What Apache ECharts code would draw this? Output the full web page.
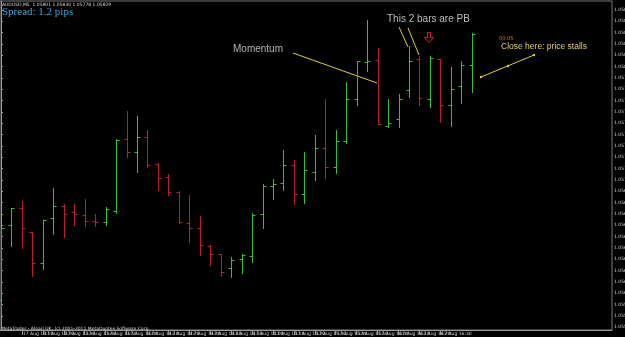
<!DOCTYPE html>
<html>
<head>
<meta charset="utf-8">
<script src="https://cdn.jsdelivr.net/npm/echarts@6.0.0/dist/echarts.min.js"></script>
<style>
html, body { margin: 0; padding: 0; background: #000; }
#chart { width: 625px; height: 337px; }
</style>
</head>
<body>
<div id="chart"></div>
<script>
// AUDUSD M5, 17 Aug 2011
var dateLabel = '17 Aug';
var times = ['13:00','13:05','13:10','13:15','13:20','13:25','13:30','13:35','13:40','13:45',
  '13:50','13:55','14:00','14:05','14:10','14:15','14:20','14:25','14:30','14:35',
  '14:40','14:45','14:50','14:55','15:00','15:05','15:10','15:15','15:20','15:25',
  '15:30','15:35','15:40','15:45','15:50','15:55','16:00','16:05','16:10','16:15',
  '16:20','16:25','16:30','16:35','16:40','16:45'];
var openData = [1.05594,1.05660,1.05675,1.05654,1.05627,1.05666,1.05677,1.05672,1.05669,1.05664,
  1.05663,1.05673,1.05736,1.05725,1.05738,1.05714,1.05703,1.05689,1.05662,1.05658,
  1.05642,1.05635,1.05622,1.05630,1.05633,1.05670,1.05695,1.05697,1.05713,1.05688,
  1.05707,1.05728,1.05711,1.05734,1.05771,1.05804,1.05806,1.05748,1.05754,1.05779,
  1.05807,1.05771,1.05807,1.05766,1.05783,1.05801];
var highData = [1.05658,1.05675,1.05681,1.05654,1.05665,1.05693,1.05679,1.05679,1.05683,1.05670,
  1.05676,1.05736,1.05761,1.05756,1.05744,1.05715,1.05705,1.05690,1.05687,1.05668,
  1.05643,1.05635,1.05632,1.05635,1.05671,1.05696,1.05701,1.05726,1.05718,1.05725,
  1.05740,1.05771,1.05744,1.05786,1.05805,1.05841,1.05816,1.05771,1.05776,1.05818,
  1.05809,1.05809,1.05807,1.05800,1.05805,1.05830];
var lowData = [1.05583,1.05642,1.05640,1.05615,1.05621,1.05652,1.05650,1.05660,1.05659,1.05659,
  1.05660,1.05671,1.05720,1.05707,1.05711,1.05691,1.05687,1.05662,1.05645,1.05634,
  1.05625,1.05615,1.05614,1.05618,1.05628,1.05658,1.05683,1.05691,1.05679,1.05680,
  1.05700,1.05702,1.05706,1.05733,1.05766,1.05796,1.05749,1.05747,1.05747,1.05773,
  1.05766,1.05764,1.05751,1.05748,1.05768,1.05778];
var closeData = [1.05658,1.05675,1.05658,1.05627,1.05665,1.05677,1.05670,1.05670,1.05664,1.05663,
  1.05674,1.05735,1.05725,1.05738,1.05713,1.05702,1.05689,1.05663,1.05658,1.05643,
  1.05635,1.05619,1.05629,1.05634,1.05669,1.05695,1.05696,1.05713,1.05688,1.05709,
  1.05728,1.05711,1.05734,1.05771,1.05805,1.05805,1.05749,1.05750,1.05771,1.05805,
  1.05772,1.05808,1.05766,1.05780,1.05801,1.05829];
var priceTicks = [1.05850,1.05840,1.05830,1.05820,1.05810,1.05800,1.05790,1.05780,1.05770,1.05760,
  1.05750,1.05740,1.05730,1.05720,1.05710,1.05700,1.05690,1.05680,1.05670,1.05660,
  1.05650,1.05640,1.05630,1.05620,1.05610,1.05600,1.05590,1.05580,1.05570];
var timeTicks = [0,2,4,6,8,10,12,14,16,18,20,22,24,26,28,30,32,34,36,38,40,42,44];

var upColor = '#3cbc3c';
var downColor = '#b82226';
var lineYellow = '#dccc48';
var n = times.length;
var last = n - 1;

var bars = times.map(function (t, i) {
  return [i, openData[i], highData[i], lowData[i], closeData[i]];
});

function renderBar(params, api) {
  var i = api.value(0);
  var o = api.coord([i, api.value(1)]);
  var h = api.coord([i, api.value(2)]);
  var l = api.coord([i, api.value(3)]);
  var c = api.coord([i, api.value(4)]);
  var x = Math.round(o[0]) + 0.5;
  var col = api.value(4) >= api.value(1) ? upColor : downColor;
  var st = { stroke: col, lineWidth: 1 };
  return {
    type: 'group',
    children: [
      { type: 'line', shape: { x1: x, y1: Math.round(h[1]), x2: x, y2: Math.round(l[1]) + 1 }, style: st },
      { type: 'line', shape: { x1: x - 3, y1: Math.round(o[1]) + 0.5, x2: x, y2: Math.round(o[1]) + 0.5 }, style: st },
      { type: 'line', shape: { x1: x, y1: Math.round(c[1]) + 0.5, x2: x + 3, y2: Math.round(c[1]) + 0.5 }, style: st }
    ]
  };
}

var chart = echarts.init(document.getElementById('chart'));
var tiny = { color: '#d0d0d0', fontSize: 4.5, fontFamily: 'DejaVu Sans' };

chart.setOption({
  backgroundColor: '#000',
  animation: false,
  grid: {
    left: 0, right: 13, top: 1, bottom: 7,
    containLabel: false, outerBoundsMode: 'none',
    show: true, borderColor: '#7a7a7a', borderWidth: 1
  },
  xAxis: {
    type: 'value',
    min: -0.0956,
    max: 58.41,
    splitLine: { show: false },
    axisLine: { show: true, lineStyle: { color: '#9a9a9a' } },
    axisTick: { show: true, customValues: timeTicks, length: 5, lineStyle: { color: '#9a9a9a' } },
    axisLabel: {
      customValues: timeTicks,
      align: 'left',
      margin: 1,
      padding: [0, 0, 0, 1],
      color: tiny.color, fontSize: tiny.fontSize, fontFamily: tiny.fontFamily,
      formatter: function (v) {
        var i = Math.round(v);
        return i === 0 ? dateLabel + ' 2011' : dateLabel + ' ' + times[i];
      }
    }
  },
  yAxis: {
    type: 'value',
    position: 'right',
    min: 1.055676,
    max: 1.058579,
    splitLine: { show: false },
    axisLine: { show: true, lineStyle: { color: '#9a9a9a' } },
    axisTick: { show: true, customValues: priceTicks, length: 2, lineStyle: { color: '#9a9a9a' } },
    axisLabel: {
      customValues: priceTicks,
      margin: 2,
      color: tiny.color, fontSize: tiny.fontSize, fontFamily: tiny.fontFamily,
      formatter: function (v) { return v.toFixed(5); }
    }
  },
  series: [
    {
      type: 'custom',
      renderItem: renderBar,
      encode: { x: 0, y: [1, 2, 3, 4] },
      data: bars,
      silent: true
    },
    {
      type: 'line',
      data: closeData.map(function (v, i) { return [i, v]; }),
      showSymbol: false,
      lineStyle: { opacity: 0 },
      silent: true,
      markLine: {
        symbol: 'none',
        silent: true,
        data: [{ yAxis: closeData[last] }],
        lineStyle: { color: '#8c8c8c', width: 1, type: 'solid' },
        label: {
          position: 'end',
          distance: 1,
          formatter: function (p) { return p.value.toFixed(5); },
          backgroundColor: '#f0f0f0',
          color: '#000',
          fontSize: 4.5,
          fontFamily: 'DejaVu Sans',
          padding: [1, 1]
        }
      }
    }
  ],
  graphic: [
    { type: 'text', left: 2, top: 2, style: { text: 'AUDUSD,M5  ' + openData[last].toFixed(5) + ' ' + highData[last].toFixed(5) + ' ' + lowData[last].toFixed(5) + ' ' + closeData[last].toFixed(5), fill: '#d8d8d8', font: '4.5px DejaVu Sans' } },
    { type: 'text', left: 2, top: 7, style: { text: 'Spread: 1.2 pips', fill: '#3aa4e4', font: '11px Liberation Serif' } },
    { type: 'text', left: 1, top: 326, style: { text: 'MetaTrader - Alpari UK, (c) 2001-2011 MetaQuotes Software Corp.', fill: '#d8d8d8', font: '4.5px DejaVu Sans' } },

    { type: 'text', left: 233, top: 44, style: { text: 'Momentum', fill: '#b4b4b4', font: '10px Liberation Sans' } },
    { type: 'line', shape: { x1: 293, y1: 53, x2: 377, y2: 83 }, style: { stroke: lineYellow, lineWidth: 1 } },

    { type: 'text', left: 387, top: 14, style: { text: 'This 2 bars are PB', fill: '#bcbcbc', font: '10px Liberation Sans' } },
    { type: 'line', shape: { x1: 399, y1: 27, x2: 408, y2: 47 }, style: { stroke: lineYellow, lineWidth: 1 } },
    { type: 'line', shape: { x1: 408, y1: 28, x2: 419, y2: 55 }, style: { stroke: lineYellow, lineWidth: 1 } },
    { type: 'polygon', shape: { points: [[427.5, 32.5], [430.5, 32.5], [430.5, 37.5], [433.5, 37.5], [429, 42.5], [424.5, 37.5], [427.5, 37.5]] }, style: { stroke: '#d02424', fill: null, lineWidth: 1 } },

    { type: 'text', left: 499, top: 36, style: { text: '00:05', fill: '#e07a20', font: '5px DejaVu Sans' } },
    { type: 'text', left: 501, top: 42, style: { text: 'Close here: price stalls', fill: '#e2cc72', font: '8.5px Liberation Sans' } },
    { type: 'line', shape: { x1: 481, y1: 77, x2: 534, y2: 55 }, style: { stroke: lineYellow, lineWidth: 1 } },
    { type: 'circle', shape: { cx: 481, cy: 77, r: 1.2 }, style: { fill: lineYellow } },
    { type: 'circle', shape: { cx: 508, cy: 66, r: 1.2 }, style: { fill: lineYellow } },
    { type: 'circle', shape: { cx: 534, cy: 55, r: 1.2 }, style: { fill: lineYellow } }
  ]
});
</script>
</body>
</html>
